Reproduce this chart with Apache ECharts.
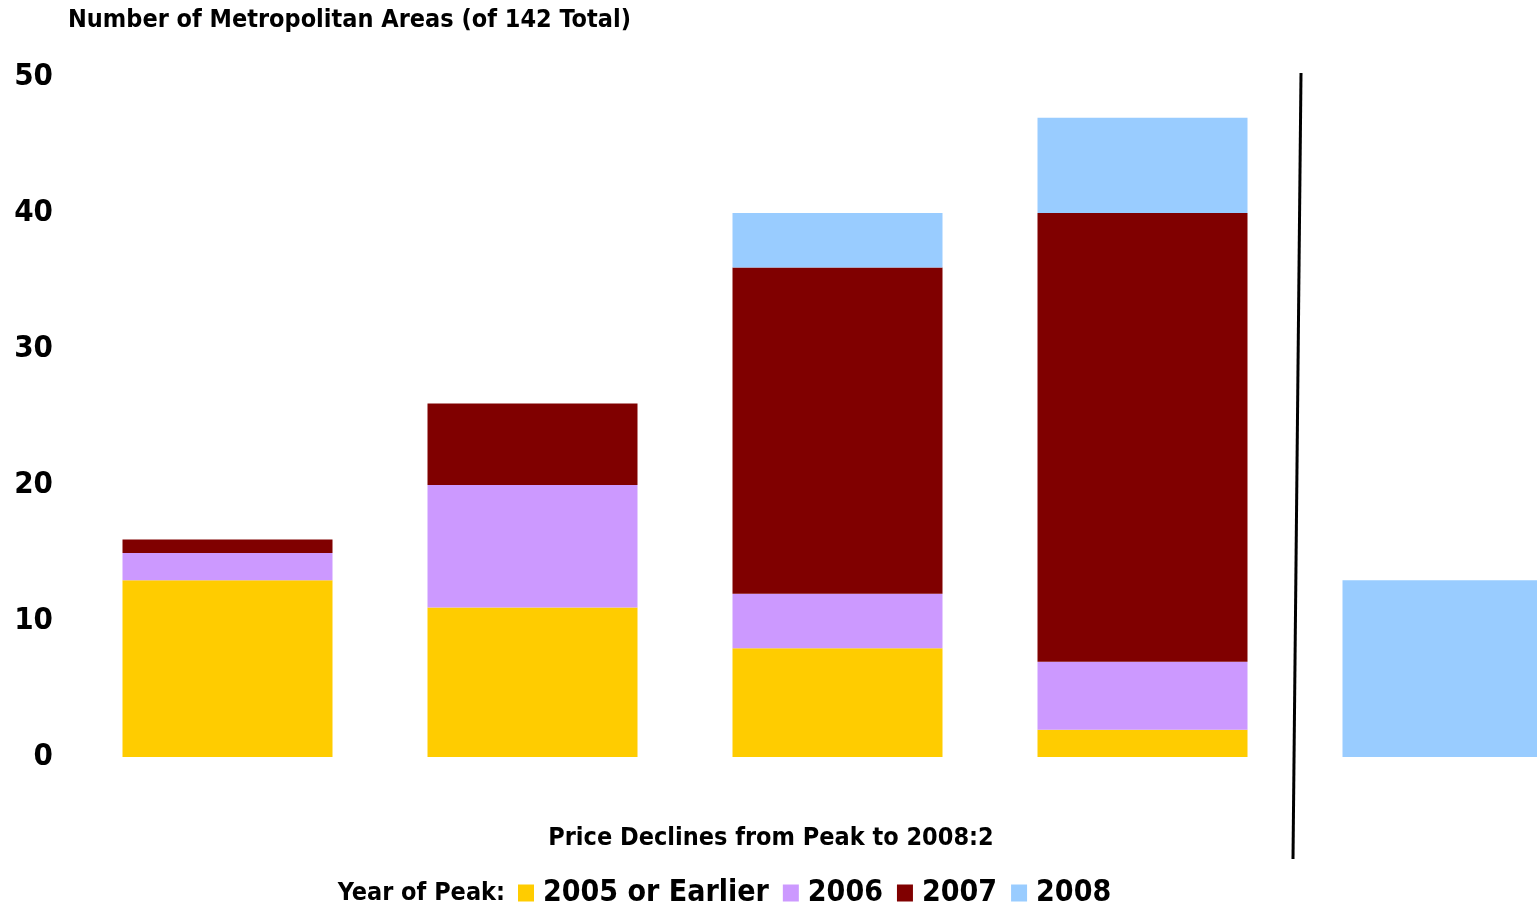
<!DOCTYPE html>
<html><head><meta charset="utf-8">
<script src="https://cdn.jsdelivr.net/npm/echarts@6/dist/echarts.min.js"></script>
<style>html,body{margin:0;padding:0;background:#fff;overflow:hidden}#c{width:1600px;height:904px}</style>
</head><body><div id="c"></div>
<script>
var categories = ['A', 'B', 'C', 'D', 'E'];
var s2005 = [13, 11, 8, 2, 0];
var s2006 = [2, 9, 4, 5, 0];
var s2007 = [1, 6, 24, 33, 0];
var s2008 = [0, 0, 4, 7, 13];
var seriesNames = ['2005 or Earlier', '2006', '2007', '2008'];
var colors = ['#FFCC00', '#CC99FF', '#800000', '#99CCFF'];
var yTicks = [0, 10, 20, 30, 40, 50];

var chart = echarts.init(document.getElementById('c'), null, {renderer: 'canvas'});
var cond = 'DejaVu Sans Condensed';
var data = [s2005, s2006, s2007, s2008];
chart.setOption({
  animation: false,
  backgroundColor: '#fff',
  color: colors,
  title: [
    {text: 'Number of Metropolitan Areas (of 142 Total)', left: 68, top: 8, padding: 0,
     textStyle: {fontFamily: cond, fontWeight: 'bold', fontSize: 25, color: '#000'}},
    {text: 'Price Declines from Peak to 2008:2', left: 771, top: 826, padding: 0, textAlign: 'center',
     textStyle: {fontFamily: cond, fontWeight: 'bold', fontSize: 25, color: '#000'}}
  ],
  legend: {
    left: 518, top: 878, padding: 0, itemWidth: 16, itemHeight: 17, itemGap: 14,
    icon: 'rect',
    textStyle: {fontFamily: cond, fontWeight: 'bold', fontSize: 30, color: '#000', padding: [0,0,0,4]},
    data: seriesNames
  },
  grid: {left: 75, right: 0, top: 77, bottom: 147, containLabel: false},
  xAxis: {type: 'category', data: categories, axisLine: {show: false}, axisTick: {show: false}, axisLabel: {show: false}},
  yAxis: {type: 'value', min: yTicks[0], max: yTicks[yTicks.length-1], interval: 10,
    splitLine: {show: false}, axisLine: {show: false}, axisTick: {show: false},
    axisLabel: {fontFamily: cond, fontWeight: 'bold', fontSize: 31, color: '#000', margin: 22, padding: [6,0,0,0]}},
  series: seriesNames.map(function(n, i){
    return {name: n, type: 'bar', stack: 'total', data: data[i], barWidth: 210,
      itemStyle: {color: colors[i]}};
  }),
  graphic: [
    {type: 'text', x: 505, y: 881, style: {text: 'Year of Peak:', align: 'right', verticalAlign: 'top', font: 'bold 25px "DejaVu Sans Condensed"', fill: '#000'}},
    {type: 'line', shape: {x1: 1301, y1: 73, x2: 1293, y2: 859}, style: {stroke: '#000', lineWidth: 3}}
  ]
});
</script></body></html>
